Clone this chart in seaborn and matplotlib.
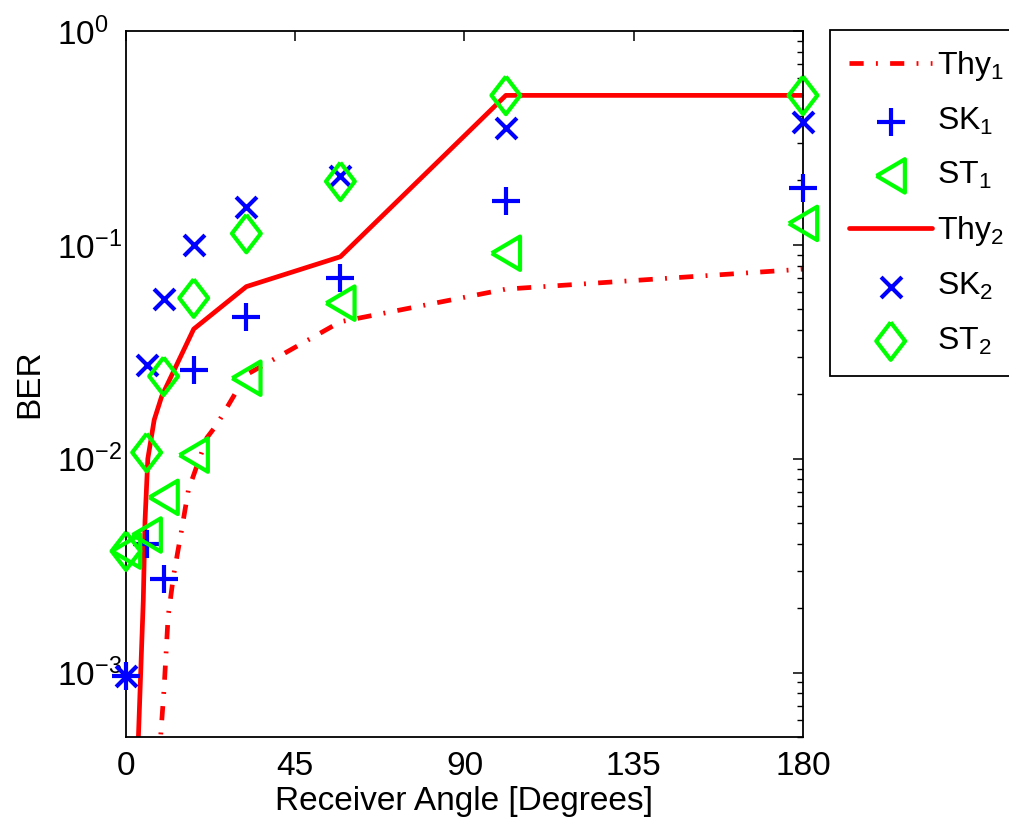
import numpy as np
import pandas as pd
import matplotlib
matplotlib.use("Agg")
import matplotlib.pyplot as plt
import seaborn as sns

# ---- data ----
angles = [0, 5.5, 10, 18, 32, 57, 101, 180]
sk1 = [9.6e-4, 4.0e-3, 2.75e-3, 0.0259, 0.0459, 0.070, 0.161, 0.185]
sk2 = [9.6e-4, 0.0275, 0.0557, 0.0997, 0.151, 0.21, 0.351, 0.377]
st1 = [3.7e-3, 4.4e-3, 6.6e-3, 0.0104, 0.0238, 0.0534, 0.0914, 0.126]
st2 = [3.7e-3, 0.0107, 0.0243, 0.0564, 0.113, 0.198, 0.50, 0.50]

thy1_ang = [8.6, 9.2, 10.1, 11.2, 12.6, 14.8, 16.6, 21.5, 24.1, 32, 57, 101, 180]
thy1_ber = [2.5e-4, 5.0e-4, 8.3e-4, 1.83e-3, 2.81e-3, 4.66e-3, 7.16e-3, 0.01253, 0.0144,
            0.0247, 0.0437, 0.0621, 0.0770]
thy2_ang = [2.5, 3.3, 4.6, 5.05, 5.8, 7.5, 9.5, 18, 32, 57, 101, 180]
thy2_ber = [2.5e-4, 5.0e-4, 2.19e-3, 5.1e-3, 0.0100, 0.0152, 0.0196, 0.0404, 0.0638,
            0.088, 0.50, 0.50]

xticks = [0, 45, 90, 135, 180]
yticks = [1e-3, 1e-2, 1e-1, 1]
ytick_labels = [r"$10^{-3}$", r"$10^{-2}$", r"$10^{-1}$", r"$10^{0}$"]
labels = ["Thy$_1$", "SK$_1$", "ST$_1$", "Thy$_2$", "SK$_2$", "ST$_2$"]

# ---- style ----
sns.set_style("white")
plt.rcParams["font.family"] = ["Liberation Sans", "DejaVu Sans"]
plt.rcParams["mathtext.fontset"] = "custom"
plt.rcParams["mathtext.rm"] = "Liberation Sans"
plt.rcParams["mathtext.it"] = "Liberation Sans"
plt.rcParams["mathtext.default"] = "regular"
plt.rcParams["text.color"] = "black"
plt.rcParams["axes.labelcolor"] = "black"

FS = 24
LFS = 23
fig = plt.figure(figsize=(10.09, 8.22), dpi=100)
ax = fig.add_axes([126 / 1009, 1 - 737 / 822, (803 - 126) / 1009, (737 - 31) / 822])

RED, BLUE, GREEN = (1, 0, 0), (0, 0, 1), (0, 1, 0)
LW = 3.4
dashdot = (0, (3, 2.6, 0.4, 2.6))

diamond = [(0, 1), (0.77, 0), (0, -1), (-0.77, 0), (0, 1)]
tri_left = [(-0.85, 0), (0.85, 1), (0.85, -1), (-0.85, 0)]

d1 = pd.DataFrame({"a": thy1_ang, "b": thy1_ber})
d2 = pd.DataFrame({"a": thy2_ang, "b": thy2_ber})
dm = pd.DataFrame({"a": angles, "sk1": sk1, "sk2": sk2, "st1": st1, "st2": st2})

sns.lineplot(data=d1, x="a", y="b", ax=ax, color=RED, lw=LW, linestyle=dashdot,
             sort=False, estimator=None, label=labels[0], zorder=2)
sns.scatterplot(data=dm, x="a", y="sk1", ax=ax, marker="+", s=19.5 ** 2, color=BLUE,
                linewidths=3.0, label=labels[1], clip_on=False, zorder=3)
sns.scatterplot(data=dm, x="a", y="st1", ax=ax, marker=tri_left, s=24 ** 2,
                facecolors="none", edgecolors=GREEN, linewidths=3.0, label=labels[2],
                clip_on=False, zorder=3)
sns.lineplot(data=d2, x="a", y="b", ax=ax, color=RED, lw=LW, linestyle="-",
             sort=False, estimator=None, label=labels[3], zorder=2)
sns.scatterplot(data=dm, x="a", y="sk2", ax=ax, marker="x", s=15 ** 2, color=BLUE,
                linewidths=3.0, label=labels[4], clip_on=False, zorder=3)
sns.scatterplot(data=dm, x="a", y="st2", ax=ax, marker=diamond, s=27 ** 2,
                facecolors="none", edgecolors=GREEN, linewidths=3.0, label=labels[5],
                clip_on=False, zorder=3)

ax.set_yscale("log")
ax.set_xlim(0, 180)
ax.set_ylim(5e-4, 1)
ax.set_xticks(xticks)
ax.set_xticklabels([str(t) for t in xticks])
ax.set_yticks(yticks)
ax.set_yticklabels(ytick_labels)

for s in ax.spines.values():
    s.set_visible(True)
    s.set_linewidth(1.3)
    s.set_color("black")

ax.tick_params(axis="both", which="both", direction="in", top=True, right=True,
               colors="black", labelsize=FS)
ax.tick_params(axis="both", which="major", length=7, width=1.1)
ax.tick_params(axis="y", which="minor", length=4, width=1.0)
ax.tick_params(axis="y", which="major", pad=50)
ax.tick_params(axis="x", which="major", pad=10)
for t in ax.get_yticklabels():
    t.set_horizontalalignment("left")

ax.set_xlabel("Receiver Angle [Degrees]", fontsize=FS, labelpad=3)
ax.set_ylabel("BER", fontsize=FS, labelpad=8)

h, l = ax.get_legend_handles_labels()
leg = ax.legend(h, l, loc="upper left", bbox_to_anchor=(830 / 1009, 1 - 30 / 822),
                bbox_transform=fig.transFigure, fontsize=LFS, frameon=True,
                fancybox=False, edgecolor="black", framealpha=1, borderaxespad=0,
                handlelength=2.6, handletextpad=0.15, labelspacing=0.72,
                borderpad=0.6, scatterpoints=1)
leg.get_frame().set_linewidth(1.3)

fig.savefig("out.png", dpi=100)
